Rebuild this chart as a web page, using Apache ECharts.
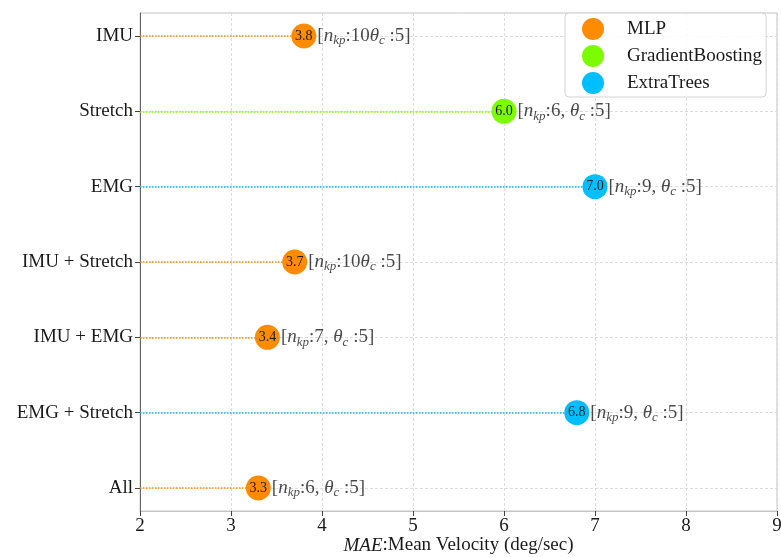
<!DOCTYPE html>
<html>
<head>
<meta charset="utf-8">
<script src="https://cdn.jsdelivr.net/npm/echarts@6/dist/echarts.min.js"></script>
<style>html,body{margin:0;padding:0;background:#fff}#chart{width:781px;height:557px}</style>
</head>
<body>
<div id="chart"></div>
<script>
// Sensor combinations and best model per combination
const categories = ['IMU', 'Stretch', 'EMG', 'IMU + Stretch', 'IMU + EMG', 'EMG + Stretch', 'All'];
const maeValues = [3.8, 6.0, 7.0, 3.7, 3.4, 6.8, 3.3];
const bestModel = ['MLP', 'GradientBoosting', 'ExtraTrees', 'MLP', 'MLP', 'ExtraTrees', 'MLP'];
const nKp = [10, 6, 9, 10, 7, 9, 6];
const thetaC = [5, 5, 5, 5, 5, 5, 5];
const modelNames = ['MLP', 'GradientBoosting', 'ExtraTrees'];
const modelColors = ['#ff8c00', '#7cfc00', '#00bfff'];
const xTicks = [2, 3, 4, 5, 6, 7, 8, 9];

const FONT = '"Liberation Serif", "DejaVu Serif", serif';
const FS = 19;
const catIdx = categories.map((_, i) => i);

const modelSeries = [];
modelNames.forEach((m, k) => {
  const pts = [];
  const segs = [];
  maeValues.forEach((v, i) => {
    if (bestModel[i] !== m) return;
    pts.push([v, i]);
    segs.push([{ coord: [xTicks[0], i] }, { coord: [v, i] }]);
  });
  modelSeries.push({
    name: m,
    type: 'scatter',
    symbol: 'circle',
    symbolSize: 25,
    itemStyle: { color: modelColors[k], opacity: 1 },
    z: 5,
    label: {
      show: true,
      position: 'inside',
      formatter: p => p.value[0].toFixed(1),
      color: '#1a1a1a',
      fontFamily: FONT,
      fontSize: 14
    },
    markLine: {
      silent: true,
      symbol: ['none', 'none'],
      label: { show: false },
      lineStyle: { color: modelColors[k], type: [1.5, 1.5], width: 1.5, opacity: 1 },
      data: segs
    },
    data: pts
  });
});

// bracketed hyper-parameter annotation beside each marker
const annotationSeries = {
  name: 'params',
  type: 'scatter',
  symbolSize: 25,
  itemStyle: { color: 'rgba(0,0,0,0)' },
  silent: true,
  z: 6,
  label: {
    show: true,
    position: 'right',
    distance: 1,
    color: '#1a1a1a',
    fontFamily: FONT,
    fontSize: FS,
    formatter: p => {
      const i = p.value[1];
      const sep = nKp[i] >= 10 ? '' : ', ';
      return '{t|[}{i|n}{s|kp}{t|:' + nKp[i] + sep + '}{i|θ}{s|c}{t| :' + thetaC[i] + ']}';
    },
    rich: {
      t: { fontFamily: FONT, fontSize: FS, color: '#1a1a1a' },
      i: { fontFamily: FONT, fontSize: FS, fontStyle: 'italic', color: '#1a1a1a' },
      s: { fontFamily: FONT, fontSize: 13, fontStyle: 'italic', color: '#1a1a1a', padding: [10, 0, 0, 0] }
    }
  },
  data: maeValues.map((v, i) => [v, i])
};

const chart = echarts.init(document.getElementById('chart'));
chart.setOption({
  animation: false,
  backgroundColor: '#fff',
  textStyle: { fontFamily: FONT },
  grid: {
    left: 140, right: 4, top: 13, bottom: 46,
    containLabel: false,
    outerBoundsMode: 'none',
    show: true, borderColor: '#c4c4c4', borderWidth: 1
  },
  legend: {
    data: modelNames,
    left: 565, top: 13,
    orient: 'vertical',
    itemWidth: 22, itemHeight: 22,
    itemGap: 5,
    icon: 'circle',
    padding: [5, 4, 3, 17],
    backgroundColor: 'rgba(255,255,255,0.85)',
    borderColor: '#d4d4d4', borderWidth: 1, borderRadius: 4,
    textStyle: { fontFamily: FONT, fontSize: FS, color: '#1a1a1a', padding: [0, 0, 0, 18] }
  },
  xAxis: {
    type: 'value',
    min: 2, max: 9, interval: 1,
    name: '{i|MAE}{t|:Mean Velocity (deg/sec)}',
    nameLocation: 'middle',
    nameGap: 25,
    nameMoveOverlap: false,
    nameTextStyle: {
      rich: {
        i: { fontFamily: FONT, fontSize: FS, fontStyle: 'italic', color: '#1a1a1a' },
        t: { fontFamily: FONT, fontSize: FS, color: '#1a1a1a' }
      }
    },
    axisLine: { show: true, onZero: false, lineStyle: { color: '#c4c4c4' } },
    axisTick: { show: true, length: 5, inside: false, lineStyle: { color: '#444' } },
    axisLabel: { color: '#1a1a1a', fontFamily: FONT, fontSize: FS, margin: 6 },
    splitLine: { show: true, lineStyle: { color: '#d4d4d4', type: [3, 2], width: 0.8 } }
  },
  yAxis: {
    type: 'value',
    inverse: true,
    min: -0.305, max: 6.305,
    axisLine: { show: true, onZero: false, lineStyle: { color: '#666' } },
    axisTick: { show: true, length: 5, customValues: catIdx, lineStyle: { color: '#444' } },
    axisLabel: {
      customValues: catIdx,
      formatter: v => categories[v] || '',
      color: '#1a1a1a', fontFamily: FONT, fontSize: FS, margin: 7
    },
    splitLine: { show: true, lineStyle: { color: '#d4d4d4', type: [3, 2], width: 0.8 } }
  },
  series: modelSeries.concat([annotationSeries])
});
</script>
</body>
</html>
